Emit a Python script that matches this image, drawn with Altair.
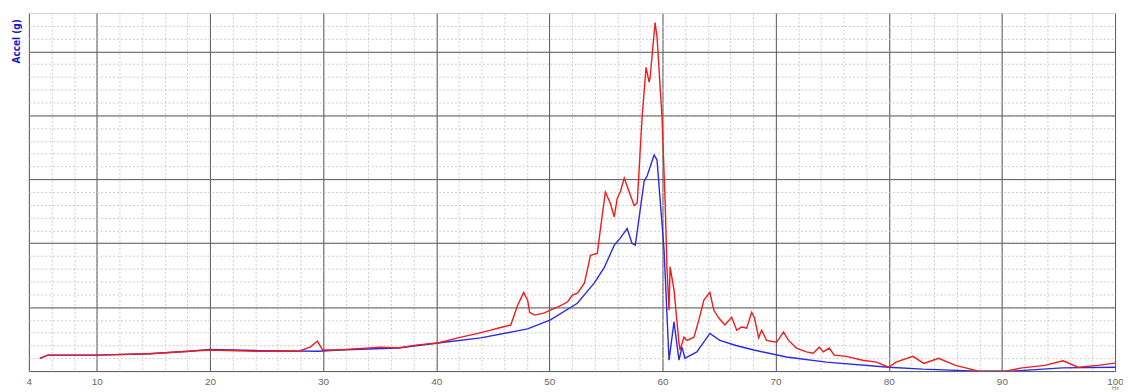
import altair as alt
import pandas as pd

# Red trace (Hz, accel in major-grid units)
red_hz = [4.97, 5.67, 9.98, 14.65, 18.17, 20.0, 24.3, 27.85, 28.9, 29.5, 29.96, 31.4, 35.1,
          36.64, 38.40, 40.16, 41.92, 43.68, 44.83, 45.44, 46.59, 47.2, 47.73, 48.08, 48.26,
          48.7, 49.58, 50.02, 50.72, 51.6, 52.04, 52.48, 53.1, 53.36, 53.63, 54.24, 54.5,
          54.95, 55.39, 55.74, 56.0, 56.27, 56.62, 57.06, 57.5, 57.77, 58.03, 58.2, 58.55,
          58.82, 58.9, 59.26, 59.35, 59.52, 59.96, 60.23, 60.4, 60.58, 60.67, 61.02, 61.46,
          61.55, 61.9, 62.17, 62.78, 63.22, 63.66, 64.19, 64.54, 64.98, 65.51, 66.12, 66.56,
          67.0, 67.44, 67.88, 68.14, 68.5, 68.76, 69.2, 70.08, 70.7, 71.14, 71.84, 72.72,
          73.33, 73.86, 74.21, 74.74, 75.18, 76.24, 77.7, 78.9, 80.0, 80.64, 82.13, 83.1,
          84.4, 85.9, 87.94, 90.32, 91.8, 93.8, 95.4, 96.74, 98.5, 100.0]
red_val = [0.20, 0.25, 0.25, 0.27, 0.31, 0.33, 0.31, 0.31, 0.38, 0.47, 0.33, 0.33, 0.375,
           0.36, 0.41, 0.44, 0.52, 0.59, 0.64, 0.67, 0.72, 1.03, 1.23, 1.11, 0.92,
           0.875, 0.91, 0.95, 1.00, 1.08, 1.19, 1.22, 1.375, 1.58, 1.81, 1.84, 2.20,
           2.80, 2.625, 2.41, 2.70, 2.80, 3.02, 2.80, 2.59, 2.63, 3.45, 3.97, 4.75,
           4.52, 4.58, 5.28, 5.45, 5.22, 3.97, 2.67, 1.60, 0.95, 1.63, 1.27, 0.44,
           0.33, 0.53, 0.48, 0.53, 0.80, 1.11, 1.23, 0.95, 0.83, 0.72, 0.84, 0.64,
           0.69, 0.67, 0.92, 0.83, 0.52, 0.64, 0.48, 0.45, 0.61, 0.48, 0.36, 0.30,
           0.28, 0.375, 0.30, 0.36, 0.25, 0.23, 0.17, 0.14, 0.06, 0.14, 0.23, 0.12,
           0.20, 0.09, 0.0, 0.0, 0.05, 0.09, 0.16, 0.06, 0.09, 0.125]

# Blue trace
blue_hz = [4.97, 5.67, 9.98, 14.65, 18.17, 20.0, 24.3, 29.6, 31.4, 36.64, 40.16, 43.95,
           46.94, 48.08, 50.1, 52.48, 53.98, 54.86, 55.74, 56.27, 56.88, 57.3, 57.6, 58.38,
           58.64, 59.26, 59.52, 60.14, 60.58, 61.02, 61.46, 61.72, 61.99, 62.17, 63.04,
           64.19, 65.07, 66.5, 68.06, 70.96, 74.48, 80.0, 83.0, 87.94, 90.93, 95.33, 100.0]
blue_val = [0.20, 0.25, 0.25, 0.27, 0.31, 0.34, 0.32, 0.31, 0.33, 0.36, 0.44, 0.52,
            0.62, 0.66, 0.80, 1.06, 1.38, 1.62, 1.97, 2.08, 2.23, 2.00, 1.97, 2.97,
            3.05, 3.38, 3.30, 1.89, 0.17, 0.77, 0.17, 0.375, 0.20, 0.22, 0.30,
            0.59, 0.48, 0.40, 0.33, 0.22, 0.14, 0.06, 0.03, 0.0, 0.0, 0.05, 0.06]

major_x = [4, 10, 20, 30, 40, 50, 60, 70, 80, 90, 100]
minor_x = list(range(4, 101, 2))
major_y = [0, 1, 2, 3, 4, 5]
minor_y = [round(i * 0.2, 1) for i in range(0, 29)]

red_df = pd.DataFrame({"hz": red_hz, "accel": red_val})
blue_df = pd.DataFrame({"hz": blue_hz, "accel": blue_val})

xscale = alt.Scale(domain=[4, 100], nice=False, zero=False)
yscale = alt.Scale(domain=[0, 5.6], nice=False, zero=False)

blue = alt.Chart(blue_df).mark_line(color="#2a2ae6", strokeWidth=1.4, clip=True).encode(
    x=alt.X("hz:Q", scale=xscale,
            axis=alt.Axis(values=minor_x, grid=True, gridColor="#cccccc", gridDash=[2, 2],
                          gridWidth=1, labels=False, ticks=False, domain=False, title=None,
                          orient="bottom")),
    y=alt.Y("accel:Q", scale=yscale,
            axis=alt.Axis(values=minor_y, grid=True, gridColor="#cccccc", gridDash=[2, 2],
                          gridWidth=1, labels=False, ticks=False, domain=False, title=None,
                          orient="left")),
)

red = alt.Chart(red_df).mark_line(color="#ee1c1c", strokeWidth=1.4, clip=True).encode(
    x=alt.X("hz:Q", scale=xscale,
            axis=alt.Axis(values=major_x, grid=True, gridColor="#5a5a5a", gridWidth=1,
                          labels=True, labelColor="#666666", labelFont="Liberation Sans",
                          labelFontSize=10, labelPadding=5, ticks=False, domain=False,
                          labelFlush=False, title="Hz", titleFontSize=6,
                          titleColor="#777777", titleFontWeight="normal",
                          titleX=1092, titleY=14, titleAlign="center",
                          titleBaseline="top",
                          orient="bottom")),
    y=alt.Y("accel:Q", scale=yscale,
            axis=alt.Axis(values=major_y, grid=True, gridColor="#5a5a5a", gridWidth=1,
                          labels=False, ticks=False, domain=False,
                          title="Accel (g)", titleColor="#1a1acc",
                          titleFont="DejaVu Sans Condensed, Liberation Sans Narrow, sans-serif",
                          titleFontSize=10,
                          titleFontWeight="bold", titleX=-12, titleY=28,
                          titleAlign="center", titleBaseline="middle",
                          orient="left")),
)

chart = alt.layer(blue, red).resolve_axis(x="independent", y="independent").properties(
    width=1092, height=360,
    autosize=alt.AutoSizeParams(type="none"),
    padding={"left": 21, "top": 4, "right": 8, "bottom": 20},
).configure_view(stroke="#666666", strokeWidth=1).configure(background="white")

chart.save("out.html", embed_options={"renderer": "svg", "actions": False})
